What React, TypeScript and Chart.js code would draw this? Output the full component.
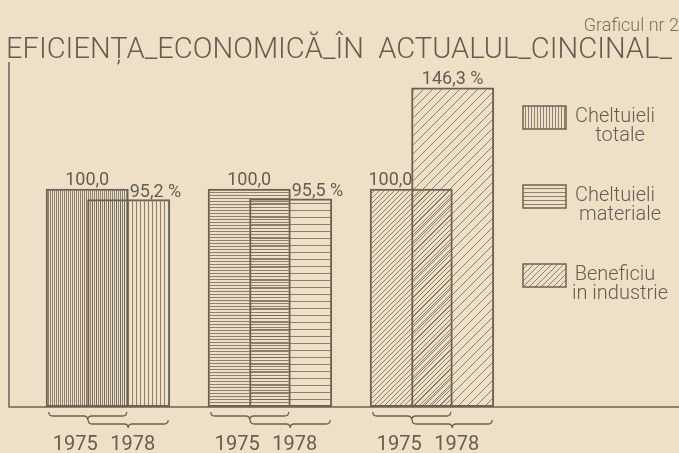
import { useEffect, useRef } from "react";
import { Chart, registerables } from "chart.js";

Chart.register(...registerables);

// ---- data ----
const TITLE = "EFICIENȚA_ECONOMICĂ_ÎN  ACTUALUL_CINCINAL_";
const CHART_NUMBER = "Graficul nr 2";
const CATEGORIES = ["Cheltuieli totale", "Cheltuieli materiale", "Beneficiu în industrie"];
const LEGEND_LINES = [
  ["Cheltuieli", "totale"],
  ["Cheltuieli", "materiale"],
  ["Beneficiu", "in industrie"],
];
const YEARS = ["1975", "1978"];
const GROUP_INDEX = [1, 2, 3];
const VALUES_1975 = [100.0, 100.0, 100.0];
const VALUES_1978 = [95.2, 95.5, 146.3];

// ---- style ----
const PAPER = "#EEE0C7";
const INK = "#6A6256";
const TEXT = "#645D51";
const HATCH = "rgba(105, 96, 82, 0.75)";
const FONT = "Roboto, 'DejaVu Sans', sans-serif";

type Kind = "v" | "h" | "d";
const KINDS: Kind[] = ["v", "h", "d"];

function makePattern(kind: Kind, s: number, color: string, lw = 1): CanvasPattern {
  const c = document.createElement("canvas");
  c.width = s;
  c.height = s;
  const g = c.getContext("2d")!;
  g.strokeStyle = color;
  g.lineWidth = lw;
  g.beginPath();
  if (kind === "v") {
    g.moveTo(0.5, 0);
    g.lineTo(0.5, s);
  } else if (kind === "h") {
    g.moveTo(0, 0.5);
    g.lineTo(s, 0.5);
  } else {
    g.moveTo(-1, s + 1);
    g.lineTo(s + 1, -1);
    g.moveTo(-1, 1);
    g.lineTo(1, -1);
    g.moveTo(s - 1, s + 1);
    g.lineTo(s + 1, s - 1);
  }
  g.stroke();
  return g.createPattern(c, "repeat")!;
}

const fmt = (v: number) => v.toFixed(1).replace(".", ",");

function brace(ctx: CanvasRenderingContext2D, x1: number, x2: number, y: number, d = 4) {
  const xm = (x1 + x2) / 2;
  ctx.beginPath();
  ctx.moveTo(x1, y - d);
  ctx.quadraticCurveTo(x1, y, x1 + d, y);
  ctx.lineTo(xm - d, y);
  ctx.quadraticCurveTo(xm, y, xm, y + d);
  ctx.quadraticCurveTo(xm, y, xm + d, y);
  ctx.lineTo(x2 - d, y);
  ctx.quadraticCurveTo(x2, y, x2, y - d);
  ctx.stroke();
}

export default function App() {
  const ref = useRef<HTMLCanvasElement | null>(null);

  useEffect(() => {
    document.body.style.margin = "0";
    document.body.style.background = PAPER;
    const canvas = ref.current;
    if (!canvas) return;

    const dense: Record<Kind, number> = { v: 2, h: 3, d: 5 };
    const sparse: Record<Kind, number> = { v: 4, h: 7, d: 9 };
    const legendDensity: Record<Kind, number> = { v: 3, h: 4, d: 6 };
    const bg75 = KINDS.map((k) => makePattern(k, dense[k], HATCH));
    const bg78 = KINDS.map((k) => makePattern(k, sparse[k], HATCH));
    const bgLegend = KINDS.map((k) => makePattern(k, legendDensity[k], HATCH));

    const decor = {
      id: "decor",
      beforeDraw(chart: any) {
        const { ctx, width, height } = chart;
        ctx.save();
        ctx.fillStyle = PAPER;
        ctx.fillRect(0, 0, width, height);
        ctx.restore();
      },
      afterDraw(chart: any) {
        const { ctx, chartArea } = chart;
        const m75 = chart.getDatasetMeta(0).data;
        const m78 = chart.getDatasetMeta(1).data;
        ctx.save();

        // axes
        ctx.strokeStyle = INK;
        ctx.lineWidth = 1.5;
        ctx.beginPath();
        ctx.moveTo(chartArea.left + 1, chartArea.top);
        ctx.lineTo(chartArea.left + 1, chartArea.bottom);
        ctx.lineTo(chartArea.right, chartArea.bottom);
        ctx.stroke();

        // value labels
        ctx.fillStyle = TEXT;
        ctx.font = `18px ${FONT}`;
        ctx.textBaseline = "alphabetic";
        GROUP_INDEX.forEach((_, i) => {
          const a = m75[i];
          const b = m78[i];
          const aLeft = a.x - a.width / 2;
          const aRight = a.x + a.width / 2;
          const bLeft = b.x - b.width / 2;
          if (VALUES_1978[i] > VALUES_1975[i]) {
            ctx.textAlign = "center";
            ctx.fillText(fmt(VALUES_1975[i]), (aLeft + bLeft) / 2, a.y - 4);
            ctx.fillText(fmt(VALUES_1978[i]) + " %", b.x, b.y - 4);
          } else {
            ctx.textAlign = "center";
            ctx.fillText(fmt(VALUES_1975[i]), a.x, a.y - 4);
            ctx.textAlign = "left";
            ctx.fillText(fmt(VALUES_1978[i]) + " %", aRight + 1, b.y - 2);
          }
        });

        // braces + years
        ctx.lineWidth = 1.3;
        ctx.strokeStyle = INK;
        ctx.font = `20px ${FONT}`;
        ctx.textAlign = "center";
        GROUP_INDEX.forEach((_, i) => {
          const a = m75[i];
          const b = m78[i];
          brace(ctx, a.x - a.width / 2 + 3, a.x + a.width / 2 - 2, chartArea.bottom + 9);
          brace(ctx, b.x - b.width / 2 + 1, b.x + b.width / 2 - 2, chartArea.bottom + 17);
          ctx.fillText(YEARS[0], a.x - 12, chartArea.bottom + 43);
          ctx.fillText(YEARS[1], b.x + 4, chartArea.bottom + 43);
        });

        // legend
        CATEGORIES.forEach((_, i) => {
          const sx = 523;
          const sy = 106 + i * 79;
          ctx.fillStyle = bgLegend[i];
          ctx.fillRect(sx, sy, 43, 23);
          ctx.lineWidth = 1.5;
          ctx.strokeStyle = INK;
          ctx.strokeRect(sx, sy, 43, 23);
          ctx.fillStyle = TEXT;
          ctx.font = `300 20px ${FONT}`;
          ctx.textAlign = "center";
          ctx.fillText(LEGEND_LINES[i][0], 615, sy + 16);
          ctx.fillText(LEGEND_LINES[i][1], 620, sy + 35);
        });

        // titles
        ctx.fillStyle = "#77705F";
        ctx.font = `300 18px ${FONT}`;
        ctx.textAlign = "right";
        ctx.fillText(CHART_NUMBER, 679, 31);

        ctx.fillStyle = TEXT;
        ctx.font = `300 30px ${FONT}`;
        ctx.textAlign = "left";
        const w = ctx.measureText(TITLE).width;
        const target = 666;
        ctx.translate(6, 58);
        ctx.scale(target / w, 1);
        ctx.fillText(TITLE, 0, 0);
        ctx.restore();
      },
    };

    const chart = new Chart(canvas, {
      type: "bar",
      data: {
        datasets: [
          {
            label: YEARS[0],
            data: GROUP_INDEX.map((x, i) => ({ x, y: VALUES_1975[i] })),
            backgroundColor: bg75,
            borderColor: INK,
            borderWidth: 2,
            borderSkipped: false,
          },
          {
            label: YEARS[1],
            data: GROUP_INDEX.map((x, i) => ({ x, y: VALUES_1978[i] })),
            backgroundColor: bg78,
            borderColor: INK,
            borderWidth: 2,
            borderSkipped: false,
          },
        ],
      } as any,
      options: {
        animation: false,
        responsive: false,
        events: [],
        layout: { padding: { left: 8, right: 0, top: 62, bottom: 46 } },
        datasets: { bar: { categoryPercentage: 0.512, barPercentage: 2 } } as any,
        scales: {
          x: {
            type: "linear",
            offset: false,
            grid: { offset: false },
            min: 0.383,
            max: 4.525,
            display: false,
            afterBuildTicks: (axis: any) => {
              axis.ticks = GROUP_INDEX.map((v) => ({ value: v }));
            },
          },
          y: { min: 0, max: 158, display: false },
        },
        plugins: {
          legend: { display: false },
          tooltip: { enabled: false },
          title: { display: false },
        },
      } as any,
      plugins: [decor],
    });

    return () => chart.destroy();
  }, []);

  return (
    <div style={{ width: 679, height: 453, background: PAPER }}>
      <canvas ref={ref} width={679} height={453} style={{ display: "block" }} />
    </div>
  );
}
